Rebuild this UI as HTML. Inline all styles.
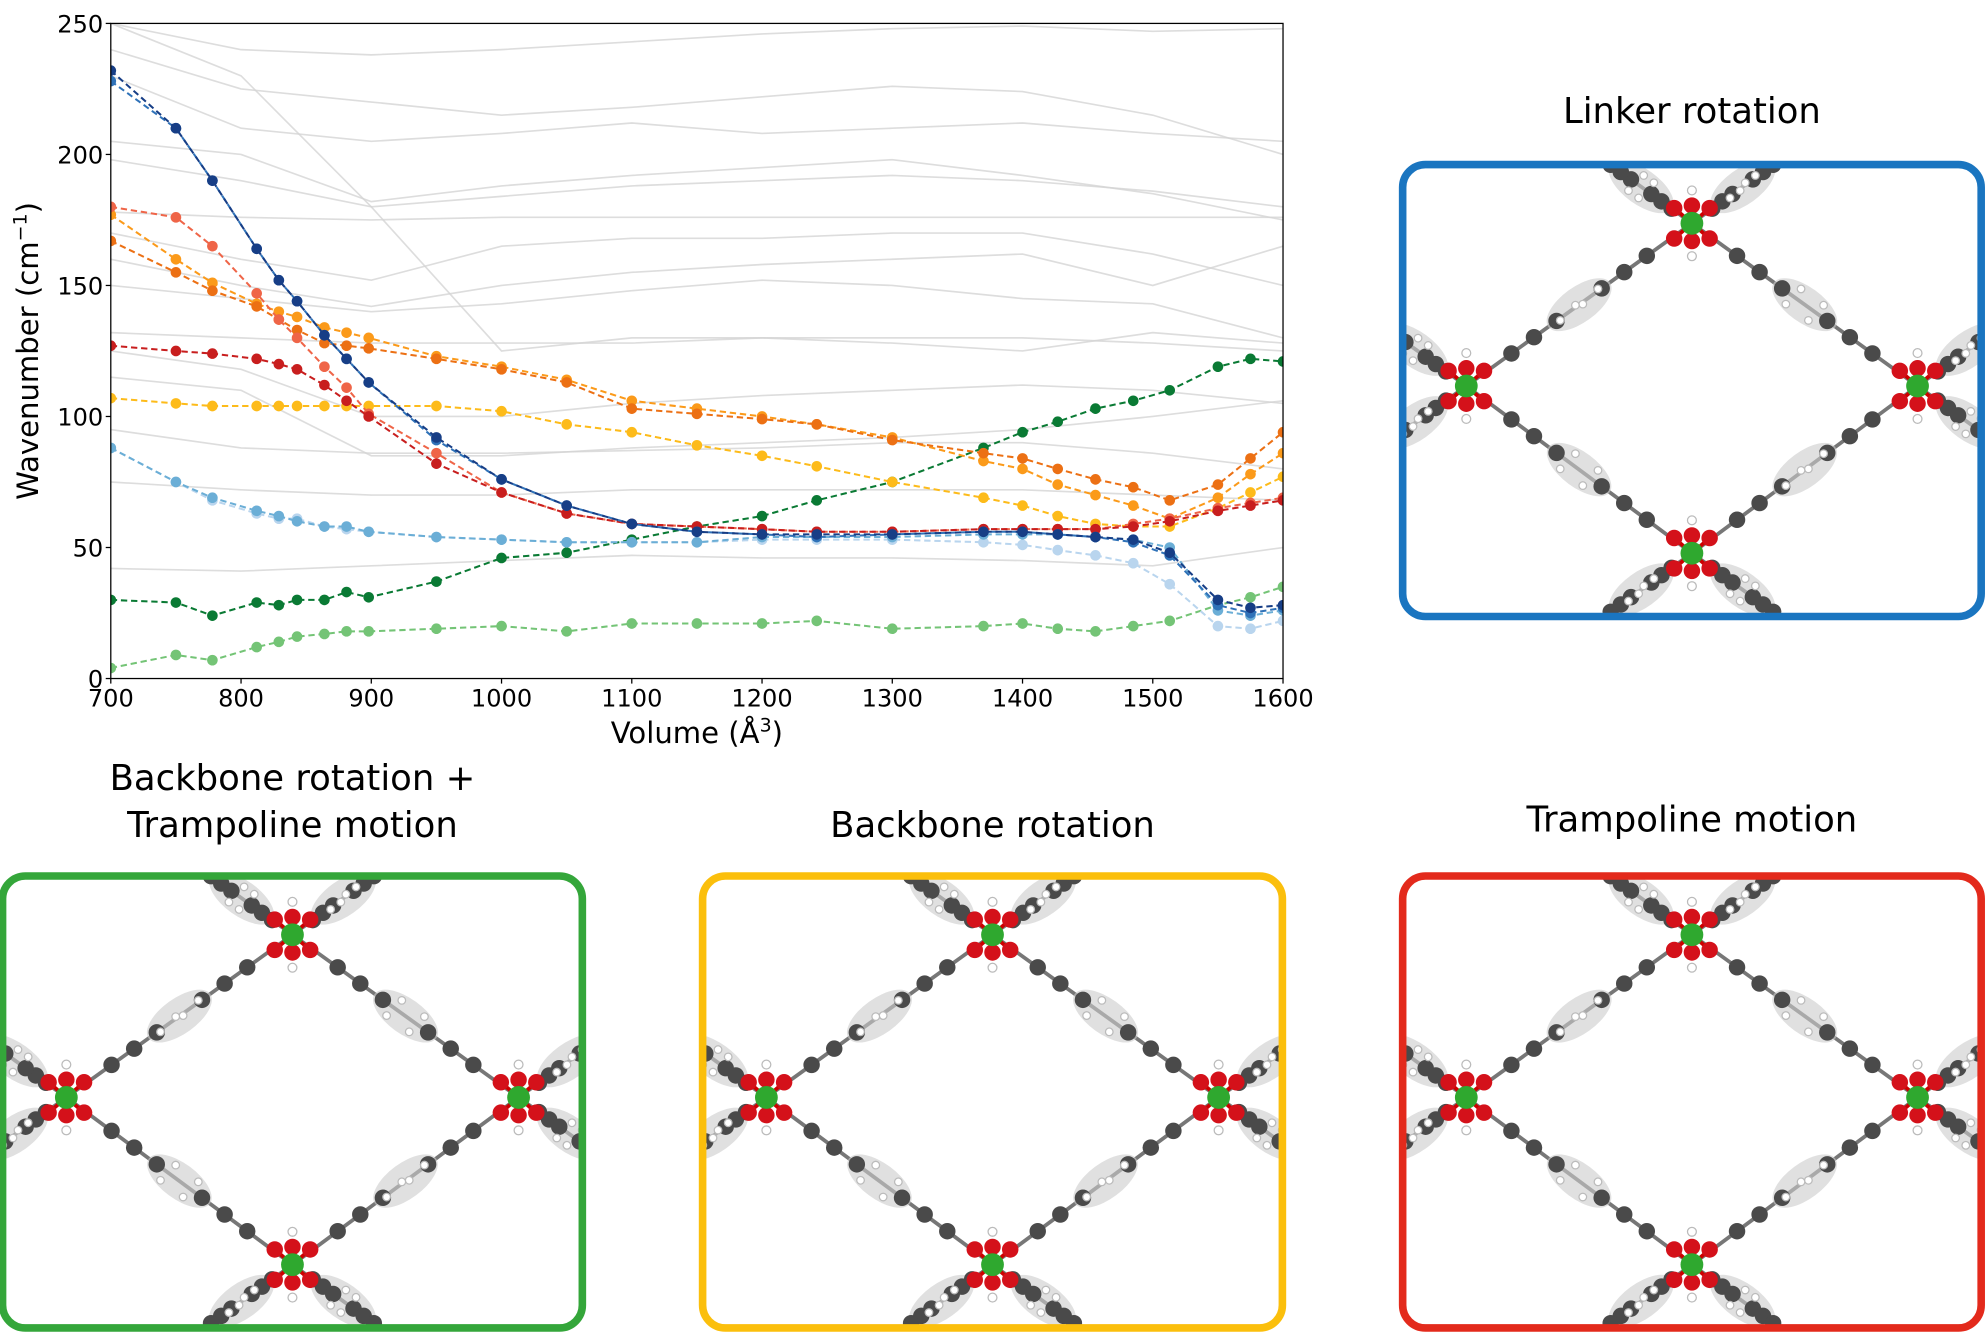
<!DOCTYPE html>
<html><head><meta charset="utf-8"><style>
html,body{margin:0;padding:0;background:#fff;overflow:hidden;width:1985px;height:1333px;}
svg{display:block;overflow:hidden;font-family:"DejaVu Sans","Liberation Sans",sans-serif;}
</style></head><body>
<svg id="fig" width="1985" height="1333" viewBox="0 0 1568 1053" xmlns="http://www.w3.org/2000/svg">
<g id="grey"></g>
<g id="series"></g>
<g id="axes"></g>
<g id="panels"></g>
</svg>
<script>
const volumes=[700,750,778,812,829,843,864,881,898,950,1000,1050,1100,1150,1200,1242,1300,1370,1400,1427,1456,1485,1513,1550,1575,1600];
const darkBlue=[232,210,190,164,152,144,131,122,113,92,76,66,59,56,55,55,55,56,56,55,54,53,48,30,27,28];
const midBlue=[228,210,190,164,152,144,131,122,113,91,76,66,59,56,55,54,55,56,56,55,54,52,47,28,25,27];
const lightBlue=[88,75,69,64,62,60,58,58,56,54,53,52,52,52,54,54,54,55,55,55,54,53,50,26,24,26];
const paleBlue=[88,75,68,63,61,61,58,57,56,54,53,52,52,52,53,53,53,52,51,49,47,44,36,20,19,22];
const salmon=[180,176,165,147,137,130,119,111,101,86,71,63,59,58,57,56,56,57,57,57,57,59,61,65,67,69];
const darkRed=[127,125,124,122,120,118,112,106,100,82,71,63,59,58,57,56,56,57,57,57,57,58,60,64,66,68];
const darkOrange=[167,155,148,142,137,133,128,127,126,122,118,113,103,101,99,97,91,86,84,80,76,73,68,74,84,94];
const amber=[177,160,151,143,140,138,134,132,130,123,119,114,106,103,100,97,92,83,80,74,70,66,61,69,78,86];
const yellow=[107,105,104,104,104,104,104,104,104,104,102,97,94,89,85,81,75,69,66,62,59,58,58,65,71,77];
const darkGreen=[30,29,24,29,28,30,30,33,31,37,46,48,53,58,62,68,75,88,94,98,103,106,110,119,122,121];
const lightGreen=[4,9,7,12,14,16,17,18,18,19,20,18,21,21,21,22,19,20,21,19,18,20,22,28,31,35];
const greyVolumes=[700,800,900,1000,1100,1200,1300,1400,1500,1600];
const grey1=[250,240,238,240,243,246,248,249,247,248];
const grey2=[240,225,220,215,218,222,226,224,215,200];
const grey3=[230,210,205,208,212,208,210,212,208,205];
const grey4=[205,200,182,188,192,195,198,192,185,175];
const grey5=[198,190,180,184,188,190,192,190,186,180];
const grey6=[178,176,175,176,176,176,176,176,176,176];
const grey7=[170,160,152,165,168,168,170,170,162,150];
const grey8=[160,150,142,150,155,158,160,162,150,165];
const grey9=[150,145,140,143,148,152,150,145,143,130];
const grey10=[132,130,128,128,128,130,130,130,128,125];
const grey11=[125,118,100,100,105,108,110,112,110,105];
const grey12=[115,110,85,85,88,90,92,95,100,106];
const grey13=[95,88,86,86,87,88,90,90,86,80];
const grey14=[75,72,70,70,72,72,72,72,70,68];
const grey15=[42,41,43,45,47,46,46,45,43,50];
const grey16=[250,230,180,125,130,130,128,125,132,128];
const greySeries=[grey1,grey2,grey3,grey4,grey5,grey6,grey7,grey8,grey9,grey10,grey11,grey12,grey13,grey14,grey15,grey16];
const xTicks=[700,800,900,1000,1100,1200,1300,1400,1500,1600];
const yTicks=[0,50,100,150,200,250];

const NS="http://www.w3.org/2000/svg";
const L=87.5,R=1013.5,T=18.5,B=536;
const X=v=>L+(v-700)/(1600-700)*(R-L);
const Y=v=>B-(v-0)/(250-0)*(B-T);
function mk(tag,attrs,parent){const e=document.createElementNS(NS,tag);for(const k in attrs)e.setAttribute(k,attrs[k]);parent.appendChild(e);return e;}

const gGrey=document.getElementById('grey');
const clip=mk('clipPath',{id:'plotclip'},document.getElementById('fig'));
mk('rect',{x:L,y:T,width:R-L,height:B-T},clip);
gGrey.setAttribute('clip-path','url(#plotclip)');
greySeries.forEach((s,i)=>{
  const p=mk('polyline',{points:s.map((v,j)=>X(greyVolumes[j])+','+Y(v)).join(' '),fill:'none',stroke:'#d4d4d4','stroke-width':1.3,opacity:0.8},gGrey);
  
  
});

const gS=document.getElementById('series');
gS.setAttribute('clip-path','url(#plotclip)');
const seriesList=[
 ['light-green',lightGreen,'#74c476'],['dark-green',darkGreen,'#0a7a34'],
 ['yellow',yellow,'#fdbb1a'],['amber',amber,'#fb9a1a'],['dark-orange',darkOrange,'#ec7014'],
 ['pale-blue',paleBlue,'#b9d5ee'],['light-blue',lightBlue,'#6baed6'],
 ['salmon',salmon,'#ef6548'],['dark-red',darkRed,'#c81e1e'],
 ['mid-blue',midBlue,'#2f72b8'],['dark-blue',darkBlue,'#173e86']];
seriesList.forEach(([nm,vals,col])=>{
  const g=mk('g',{},gS);
  
  
  mk('polyline',{points:vals.map((v,j)=>X(volumes[j])+','+Y(v)).join(' '),fill:'none',stroke:col,'stroke-width':1.6,'stroke-dasharray':'5,3'},g);
  vals.forEach((v,j)=>{
    const c=mk('circle',{cx:X(volumes[j]),cy:Y(v),r:4.2,fill:col},g);
    
    
  });
});

const gA=document.getElementById('axes');
mk('rect',{x:L,y:T,width:R-L,height:B-T,fill:'none',stroke:'#000','stroke-width':1},gA);
xTicks.forEach(t=>{
  mk('line',{x1:X(t),x2:X(t),y1:B,y2:B+4,stroke:'#000'},gA);
  const tx=mk('text',{x:X(t),y:B+22,'text-anchor':'middle','font-size':19},gA);
  tx.textContent=t;
  
  
});
yTicks.forEach(t=>{
  mk('line',{x1:L-4,x2:L,y1:Y(t),y2:Y(t),stroke:'#000'},gA);
  const tx=mk('text',{x:L-6,y:Y(t)+7,'text-anchor':'end','font-size':19},gA);
  tx.textContent=t;
  
  
});
const xl=mk('text',{x:(L+R)/2,y:587,'text-anchor':'middle','font-size':23},gA);
xl.innerHTML='Volume (Å<tspan dy="-9" font-size="15">3</tspan><tspan dy="9">)</tspan>';


const yl=mk('text',{x:0,y:0,'text-anchor':'middle','font-size':23,transform:'translate(30,'+((T+B)/2)+') rotate(-90)'},gA);
yl.innerHTML='Wavenumber (cm<tspan dy="-9" font-size="15">−1</tspan><tspan dy="9">)</tspan>';



const gP=document.getElementById('panels');
const panels=[
 {name:'linker-rotation',x:1108,y:130,w:457,h:357,col:'#1a75c0',t:['Linker rotation'],ty:[97]},
 {name:'backbone-trampoline',x:2,y:692,w:458,h:357,col:'#34a63a',t:['Backbone rotation +','Trampoline motion'],ty:[624,661]},
 {name:'backbone-rotation',x:555,y:692,w:458,h:357,col:'#fbbf0c',t:['Backbone rotation'],ty:[661]},
 {name:'trampoline-motion',x:1108,y:692,w:457,h:357,col:'#e32a1c',t:['Trampoline motion'],ty:[657]}];
function chain(g,a,b){
  mk('line',{x1:a[0],y1:a[1],x2:b[0],y2:b[1],stroke:'#777','stroke-width':3},g);
  const p=t=>[a[0]+(b[0]-a[0])*t,a[1]+(b[1]-a[1])*t];
  const m=p(0.5);
  mk('ellipse',{cx:m[0],cy:m[1],rx:30,ry:14,fill:'#ccc',opacity:0.6,transform:`rotate(${Math.atan2(b[1]-a[1],b[0]-a[0])*180/Math.PI} ${m[0]} ${m[1]})`},g);
  [0.2,0.3,0.4,0.6,0.7,0.8].forEach(t=>{const q=p(t);mk('circle',{cx:q[0],cy:q[1],r:6.5,fill:'#4a4a4a'},g);});
  [0.45,0.55].forEach(t=>{const q=p(t);mk('circle',{cx:q[0]+6,cy:q[1]-6,r:3,fill:'#fff',stroke:'#bbb'},g);mk('circle',{cx:q[0]-6,cy:q[1]+6,r:3,fill:'#fff',stroke:'#bbb'},g);});
}
function node(g,c){
  [[-14,-12],[14,-12],[-14,12],[14,12],[0,-14],[0,14]].forEach(d=>{
    mk('line',{x1:c[0],y1:c[1],x2:c[0]+d[0],y2:c[1]+d[1],stroke:'#c00','stroke-width':3},g);
    mk('circle',{cx:c[0]+d[0],cy:c[1]+d[1],r:6.5,fill:'#d4111a'},g);});
  mk('circle',{cx:c[0],cy:c[1]-26,r:3.5,fill:'#fff',stroke:'#bbb'},g);
  mk('circle',{cx:c[0],cy:c[1]+26,r:3.5,fill:'#fff',stroke:'#bbb'},g);
  mk('circle',{cx:c[0],cy:c[1],r:9,fill:'#2fa82f'},g);
}
panels.forEach((p,i)=>{
  const g=mk('g',{},gP);
  
  
  p.t.forEach((s,k)=>{const t=mk('text',{x:p.x+p.w/2,y:p.ty[k],'text-anchor':'middle','font-size':28},g);t.textContent=s;
    
    });
  const cp=mk('clipPath',{id:'pc'+i},document.getElementById('fig'));
  mk('rect',{x:p.x,y:p.y,width:p.w,height:p.h,rx:18},cp);
  const m=mk('g',{'clip-path':'url(#pc'+i+')'},g);
  
  
  const cx=p.x+p.w/2,Tn=[cx,p.y+0.13*p.h],Ln=[p.x+0.11*p.w,p.y+0.49*p.h],Rn=[p.x+0.89*p.w,p.y+0.49*p.h],Bn=[cx,p.y+0.86*p.h];
  const dx=Tn[0]-Ln[0],dy=Ln[1]-Tn[1];
  const hx=dx*0.45,hy=dy*0.45;
  chain(m,Tn,Ln);chain(m,Tn,Rn);chain(m,Ln,Bn);chain(m,Rn,Bn);
  chain(m,Tn,[Tn[0]-hx,Tn[1]-hy]);chain(m,Tn,[Tn[0]+hx,Tn[1]-hy]);
  chain(m,Bn,[Bn[0]-hx,Bn[1]+hy]);chain(m,Bn,[Bn[0]+hx,Bn[1]+hy]);
  chain(m,Ln,[Ln[0]-hx,Ln[1]-hy]);chain(m,Ln,[Ln[0]-hx,Ln[1]+hy]);
  chain(m,Rn,[Rn[0]+hx,Rn[1]-hy]);chain(m,Rn,[Rn[0]+hx,Rn[1]+hy]);
  [Tn,Ln,Rn,Bn].forEach(c=>node(m,c));
  const b=mk('rect',{x:p.x,y:p.y,width:p.w,height:p.h,rx:18,fill:'none',stroke:p.col,'stroke-width':6},g);
  
  
});
</script>
</body></html>
